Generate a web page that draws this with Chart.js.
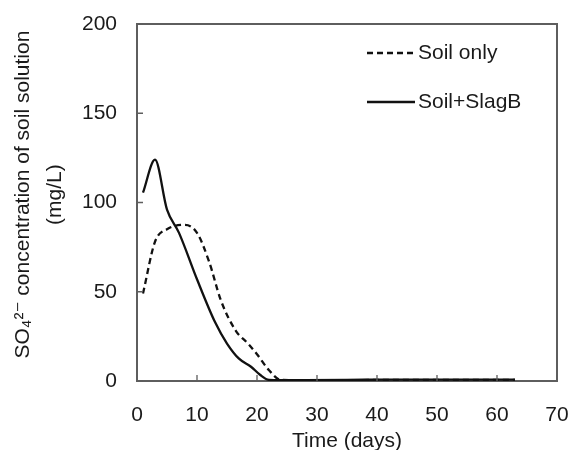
<!DOCTYPE html>
<html>
<head>
<meta charset="utf-8">
<script src="https://cdn.jsdelivr.net/npm/chart.js@4/dist/chart.umd.min.js"></script>
<style>
html,body{margin:0;padding:0;background:#fff;}
#wrap{width:569px;height:450px;position:relative;}
</style>
</head>
<body>
<div id="wrap"><canvas id="c" width="569" height="450"></canvas></div>
<script>
const seriesNames = ['Soil only', 'Soil+SlagB'];
const soilDays  = [1, 3, 5, 8, 10, 12, 14, 16.5, 18.5, 20, 22, 24, 28, 35, 42, 49, 56, 63];
const soilVals  = [49, 78, 85, 87.5, 83, 67, 45, 28, 21, 15, 6, 0.6, 0.5, 0.5, 0.6, 0.6, 0.6, 0.6];
const slagDays  = [1, 3, 5, 7, 10, 13, 15, 17, 19, 20.5, 22, 24, 28, 35, 42, 49, 56, 63];
const slagVals  = [105.5, 124, 96, 83, 57, 33, 21, 12.5, 8, 3.5, 0.6, 0.5, 0.5, 0.6, 0.8, 0.8, 0.8, 0.8];
const xTicks = [0, 10, 20, 30, 40, 50, 60, 70];
const yTicks = [0, 50, 100, 150, 200];
const xTitle = 'Time (days)';
const yTitle = ['  \u2009SO\u2084\u00B2\u207B concentration of soil solution', '  \u2009(mg/L)'];

const FONT = "'Liberation Sans', Arial, 'DejaVu Sans', sans-serif";
const AXIS = '#5e5e5e';
const TEXT = '#1a1a1a';

function pts(xs, ys){ return xs.map((x,i)=>({x:x, y:ys[i]})); }

const tickPlugin = {
  id: 'boxTicks',
  afterDatasetsDraw(chart){
    const {ctx, chartArea:a, scales:{x, y}} = chart;
    ctx.save();
    ctx.strokeStyle = AXIS;
    ctx.lineWidth = 2;
    ctx.beginPath();
    ctx.moveTo(a.left, a.top); ctx.lineTo(a.right, a.top); ctx.lineTo(a.right, a.bottom);
    ctx.stroke();
    ctx.lineWidth = 1.3;
    ctx.beginPath();
    xTicks.forEach(v=>{ const px = x.getPixelForValue(v); ctx.moveTo(px, a.bottom); ctx.lineTo(px, a.bottom-6); });
    yTicks.forEach(v=>{ const py = y.getPixelForValue(v); ctx.moveTo(a.left, py); ctx.lineTo(a.left+6, py); });
    ctx.stroke();
    ctx.restore();
  }
};

const legendPlugin = {
  id: 'innerLegend',
  afterDraw(chart){
    const {ctx} = chart;
    ctx.save();
    ctx.font = "21px " + FONT;
    ctx.textBaseline = 'middle';
    ctx.fillStyle = TEXT;
    const rows = [53, 102];
    chart.data.datasets.forEach((ds, i)=>{
      const yy = rows[i];
      ctx.strokeStyle = ds.borderColor;
      ctx.lineWidth = ds.borderWidth;
      ctx.setLineDash(ds.borderDash || []);
      ctx.beginPath(); ctx.moveTo(367, yy); ctx.lineTo(415, yy); ctx.stroke();
      ctx.setLineDash([]);
      ctx.fillText(ds.label, 418, yy);
    });
    ctx.restore();
  }
};

new Chart(document.getElementById('c'), {
  type: 'line',
  data: {
    datasets: [
      { label: seriesNames[0], data: pts(soilDays, soilVals), borderColor: '#111', borderWidth: 2.3,
        borderDash: [6, 4], pointRadius: 0, fill: false, cubicInterpolationMode: 'monotone' },
      { label: seriesNames[1], data: pts(slagDays, slagVals), borderColor: '#111', borderWidth: 2.3,
        pointRadius: 0, fill: false, cubicInterpolationMode: 'monotone' }
    ]
  },
  options: {
    responsive: false,
    animation: false,
    layout: { padding: { top: 24, right: 12, left: 0, bottom: 0 } },
    plugins: { legend: { display: false }, tooltip: { enabled: false } },
    scales: {
      x: {
        type: 'linear', min: 0, max: 70,
        afterBuildTicks: s => { s.ticks = xTicks.map(v=>({value:v})); },
        afterFit: s => { s.height = 69; s.paddingLeft = 0; s.paddingRight = 0; },
        grid: { display: false, drawTicks: false },
        border: { display: true, color: AXIS, width: 2 },
        ticks: { padding: 22, color: TEXT, font: { family: FONT, size: 21 }, maxRotation: 0 },
        title: { display: true, text: xTitle, color: TEXT, padding: 0,
                 font: { family: FONT, size: 21, lineHeight: 0.8 } }
      },
      y: {
        min: 0, max: 200,
        afterBuildTicks: s => { s.ticks = yTicks.map(v=>({value:v})); },
        afterFit: s => { s.width = 137; s.paddingTop = 0; s.paddingBottom = 0; },
        grid: { display: false, drawTicks: false },
        border: { display: true, color: AXIS, width: 2 },
        ticks: { padding: 20, color: TEXT, font: { family: FONT, size: 21 } },
        title: { display: true, text: yTitle, color: TEXT, padding: { top: 7, bottom: 0 },
                 font: { family: FONT, size: 21, lineHeight: 1.52 } }
      }
    }
  },
  plugins: [tickPlugin, legendPlugin]
});
</script>
</body>
</html>
